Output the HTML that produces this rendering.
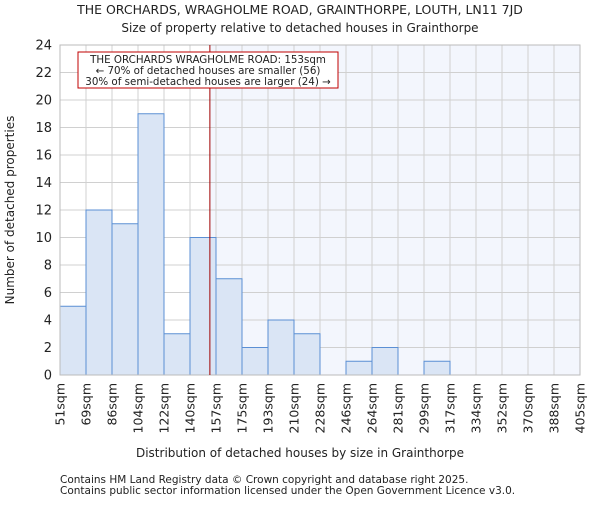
<!DOCTYPE html>
<html><head><meta charset="utf-8"><style>body{margin:0;background:#fff}svg text{font-family:"DejaVu Sans","Liberation Sans",sans-serif;fill:#222}</style></head>
<body>
<svg id="c" width="600" height="500" xmlns="http://www.w3.org/2000/svg">
<text x="300" y="14" font-size="12.5" text-anchor="middle">THE ORCHARDS, WRAGHOLME ROAD, GRAINTHORPE, LOUTH, LN11 7JD</text>
<text x="300" y="32" font-size="12" text-anchor="middle">Size of property relative to detached houses in Grainthorpe</text>
<g id="plot"></g>
<text x="300" y="457" font-size="12" text-anchor="middle">Distribution of detached houses by size in Grainthorpe</text>
<text transform="translate(14,210) rotate(-90)" font-size="12" text-anchor="middle">Number of detached properties</text>
<text x="60" y="483" font-size="10.5">Contains HM Land Registry data © Crown copyright and database right 2025.</text>
<text x="60" y="494" font-size="10.5">Contains public sector information licensed under the Open Government Licence v3.0.</text>
</svg>
<script>
const binLabels=["51sqm","69sqm","86sqm","104sqm","122sqm","140sqm","157sqm","175sqm","193sqm","210sqm","228sqm","246sqm","264sqm","281sqm","299sqm","317sqm","334sqm","352sqm","370sqm","388sqm","405sqm"];
const binEdges=[51,69,86,104,122,140,157,175,193,210,228,246,264,281,299,317,334,352,370,388,405];
const counts=[5,12,11,19,3,10,7,2,4,3,0,1,2,0,1,0,0,0,0,0];
const yTicks=[0,2,4,6,8,10,12,14,16,18,20,22,24];
const propertySize=153;
const ns="http://www.w3.org/2000/svg";
const L=60,R=580,T=45,B=375,yMax=24;
const n=counts.length,bw=(R-L)/n;
const xi=i=>L+i*bw;
const xv=v=>{let i=0;while(i<n-1&&v>binEdges[i+1])i++;return xi(i)+bw*(v-binEdges[i])/(binEdges[i+1]-binEdges[i]);};
const y=v=>B-(v/yMax)*(B-T);
const g=document.getElementById('plot');
function mk(t,a){const e=document.createElementNS(ns,t);for(const k in a)e.setAttribute(k,a[k]);g.appendChild(e);return e;}
const px=xv(propertySize);
let e=mk('rect',{x:px,y:T,width:R-px,height:B-T,fill:'#f3f6fd'});


yTicks.forEach(t=>{let l=mk('line',{x1:L,x2:R,y1:y(t),y2:y(t),stroke:'#d0d0d0'});


let tx=mk('text',{x:L-8,y:y(t)+4.5,'font-size':13,'text-anchor':'end'});tx.textContent=t;

});
binLabels.forEach((s,i)=>{let l=mk('line',{x1:xi(i),x2:xi(i),y1:T,y2:B,stroke:'#d0d0d0'});


let tx=mk('text',{x:0,y:0,'font-size':12.5,'text-anchor':'end',transform:`translate(${xi(i)+4.5},${B+8}) rotate(-90)`});tx.textContent=s;

});
counts.forEach((c,i)=>{if(!c)return;let r=mk('rect',{x:xi(i),y:y(c),width:bw,height:B-y(c),fill:'#dae5f5',stroke:'#5b8fd4','stroke-width':1});

});
e=mk('rect',{x:L,y:T,width:R-L,height:B-T,fill:'none',stroke:'#bbb'});


e=mk('line',{x1:px,x2:px,y1:T,y2:B,stroke:'#a00000','stroke-width':1});


e=mk('rect',{x:78,y:52,width:260,height:36,fill:'#fff',stroke:'#c00000','stroke-width':1});


["THE ORCHARDS WRAGHOLME ROAD: 153sqm","← 70% of detached houses are smaller (56)","30% of semi-detached houses are larger (24) →"].forEach((s,i)=>{let t=mk('text',{x:208,y:63+i*11,'font-size':10.3,'text-anchor':'middle'});t.textContent=s;

});
</script>
</body></html>
